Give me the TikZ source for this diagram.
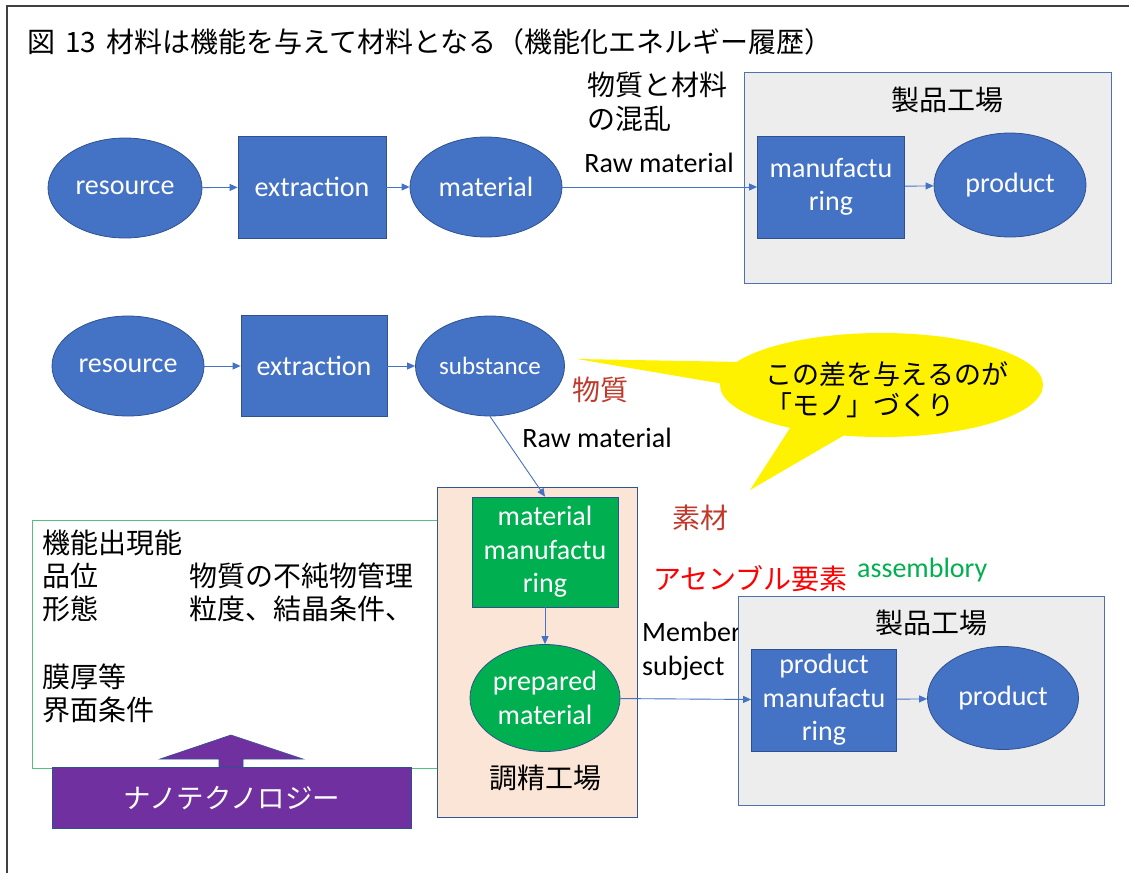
\documentclass[tikz,border=0pt]{standalone}
\usepackage{fontspec}
\setmainfont{Carlito}
\newfontfamily\jp{Noto Sans CJK JP}
\usetikzlibrary{shapes.geometric,arrows.meta}
\definecolor{bfill}{HTML}{4472C4}
\definecolor{bdraw}{HTML}{2F528F}
\definecolor{gfill}{HTML}{00B050}
\definecolor{peach}{HTML}{FBE5D6}
\definecolor{peachdraw}{HTML}{2F5597}
\definecolor{factfill}{HTML}{EDEDED}
\definecolor{factdraw}{HTML}{4F71B0}
\definecolor{gline}{HTML}{55C07C}
\definecolor{purp}{HTML}{7030A0}
\definecolor{darkred}{HTML}{C0392B}
\definecolor{frame}{HTML}{404040}
\tikzset{
  lat/.style={font=\fontsize{28}{33.5}\selectfont},
  jpt/.style={font=\jp\fontsize{28}{33.5}\selectfont},
  bell/.style={ellipse, draw=bdraw, fill=bfill, text=white, inner sep=0pt, line width=0.8pt, lat, align=center},
  bbox/.style={rectangle, draw=bdraw, fill=bfill, text=white, inner sep=0pt, line width=0.8pt, lat, align=center},
  gell/.style={ellipse, draw=bdraw, fill=gfill, text=white, inner sep=0pt, line width=0.8pt, lat, align=center},
  gbox/.style={rectangle, draw=bdraw, fill=gfill, text=white, inner sep=0pt, line width=0.8pt, lat, align=center},
  conn/.style={draw=bfill, line width=0.9pt, -{Triangle[length=8pt,width=7pt]}},
  plain/.style={inner sep=0pt, anchor=west},
}
\begin{document}
\begin{tikzpicture}[x=1pt,y=-1pt]
\useasboundingbox (0,0) rectangle (1129,873);
\fill[white] (0,0) rectangle (1129,873);
% outer frame
\draw[frame, line width=1.8pt] (7,873) -- (7,6) -- (1129,6);
% title
\node[plain, jpt] (title) at (27,42) {図\hspace{4pt} 13\hspace{4pt} 材料は機能を与えて材料となる（機能化エネルギー履歴）};

% ---------- row 1 ----------
\node[plain, jpt, align=left, anchor=north west] (konran) at (587,72) {物質と材料\\の混乱};
\node[draw=factdraw, fill=factfill, line width=0.9pt, minimum width=367pt, minimum height=211pt, inner sep=0pt] (fact1) at (927.5,177.5) {};
\node[jpt] (fact1lbl) at (947,100) {製品工場};
\node[bell, minimum width=154pt, minimum height=100pt] (res1) at (125,188) {resource};
\node[bbox, minimum width=148pt, minimum height=102pt] (ext1) at (312,187) {extraction};
\node[bell, minimum width=152pt, minimum height=100pt] (mat1) at (486,187) {material};
\node[bbox, minimum width=147pt, minimum height=102pt] (mfg1) at (831,187) {manufactu\\ring};
\node[bell, minimum width=152pt, minimum height=104pt] (prod1) at (1010,185) {product};
\node[lat, inner sep=0pt] (raw1) at (659,163) {Raw material};
\draw[conn] (res1) -- (ext1);
\draw[conn] (ext1) -- (mat1);
\draw[conn] (mat1) -- (mfg1);
\draw[conn] (mfg1) -- (prod1);

% ---------- row 2 ----------
% callout
\fill[yellow] (881.5,385) ellipse [x radius=161.5, y radius=52];
\fill[yellow] (577,359) -- (742,362) -- (724,384) -- cycle;
\fill[yellow] (750,490) -- (792,425) -- (848,433) -- cycle;
\node[jpt, font=\jp\fontsize{27}{31}\selectfont, align=left, inner sep=0pt] (callout) at (887,390) {この差を与えるのが\\「モノ」づくり};

\node[bell, minimum width=152pt, minimum height=100pt] (res2) at (128,366) {resource};
\node[bbox, minimum width=146pt, minimum height=101pt] (ext2) at (314,366) {extraction};
\node[bell, minimum width=149pt, minimum height=100pt, font=\fontsize{25}{30}\selectfont] (sub) at (490,366) {substance};
\node[jpt, text=darkred, inner sep=0pt] (busshitsu) at (600,390) {物質};
\node[lat, inner sep=0pt] (raw2) at (597,438) {Raw material};
\draw[conn] (res2) -- (ext2);
\draw[conn] (ext2) -- (sub);

% ---------- lower part ----------
% green text box
\node[draw=gline, fill=white, line width=0.9pt, minimum width=408pt, minimum height=248pt, inner sep=0pt] (kinou) at (236,644) {};
\node[plain, jpt] (k1) at (42,543) {機能出現能};
\node[plain, jpt] (k2) at (42,576) {品位};
\node[plain, jpt] (k2b) at (189,576) {物質の不純物管理};
\node[plain, jpt] (k3) at (42,609) {形態};
\node[plain, jpt] (k3b) at (189,609) {粒度、結晶条件、};
\node[plain, jpt] (k4) at (42,677) {膜厚等};
\node[plain, jpt] (k5) at (42,710) {界面条件};

% nanotech arrow
\fill[purp, draw=bdraw, line width=0.6pt] (160,759) -- (231,735) -- (303,759) -- (243,759) -- (243,768) -- (219,768) -- (219,759) -- cycle;
\node[fill=purp, draw=bdraw, line width=0.8pt, minimum width=359pt, minimum height=61pt, inner sep=0pt, text=white, font=\jp\fontsize{27.5}{30}\selectfont] (nano) at (231.5,798) {ナノテクノロジー};

% preparation factory
\node[draw=peachdraw, fill=peach, line width=0.9pt, minimum width=200pt, minimum height=330pt, inner sep=0pt] (prepfact) at (537,652) {};
\node[jpt] (prepfactlbl) at (545,778) {調精工場};
\node[gbox, minimum width=146pt, minimum height=110pt] (matmfg) at (545,552) {material\\manufactu\\ring};
\node[gell, minimum width=150pt, minimum height=107pt] (prep) at (545,698) {prepared\\material};
\draw[conn] (sub.south) -- (matmfg.north);
\draw[conn] (matmfg) -- (prep);

\node[jpt, text=darkred, inner sep=0pt] (sozai) at (700,518) {素材};
\node[plain, jpt, text=red] (assyo) at (653,579) {アセンブル要素};
\node[plain, lat, text=gfill] (assem) at (857,570) {assemblory};
\node[plain, lat, align=left, anchor=north west] (member) at (642,622) {Member\\subject};

% product factory 2
\node[draw=factdraw, fill=factfill, line width=0.9pt, minimum width=366pt, minimum height=209pt, inner sep=0pt] (fact2) at (921,700.5) {};
\node[jpt] (fact2lbl) at (931,623) {製品工場};
\node[bbox, minimum width=145pt, minimum height=102pt] (pmfg) at (824,700) {product\\manufactu\\ring};
\node[bell, minimum width=151pt, minimum height=103pt] (prod2) at (1003,698) {product};
\draw[conn] (prep) -- (pmfg);
\draw[conn] (pmfg) -- (prod2);
\end{tikzpicture}
\end{document}
